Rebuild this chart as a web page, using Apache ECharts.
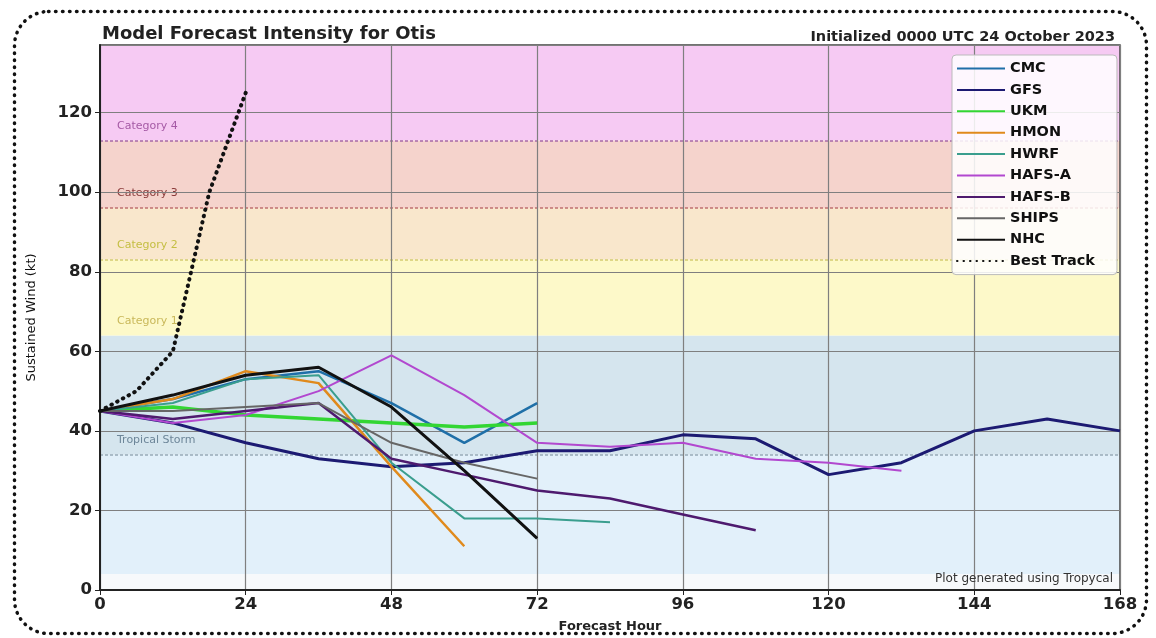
<!DOCTYPE html>
<html>
<head>
<meta charset="utf-8">
<script src="https://cdn.jsdelivr.net/npm/echarts@6/dist/echarts.min.js"></script>
<style>
html,body{margin:0;padding:0;background:#fff;}
#chart{width:1156px;height:638px;}
</style>
</head>
<body>
<div id="chart"></div>
<script>
// ---- data ----
const hours = [0,12,24,36,48,60,72,84,96,108,120,132,144,156,168];
const cmc   = [45,48,53,55,47,37,47];
const gfs   = [45,42,37,33,31,32,35,35,39,38,29,32,40,43,40];
const ukm   = [45,46,44,43,42,41,42];
const hmon  = [45,48,55,52,31,11];
const hwrf  = [45,47,53,54,32,18,18,17];
const hafsA = [45,42,44,50,59,49,37,36,37,33,32,30];
const hafsB = [45,43,45,47,33,29,25,23,19,15];
const ships = [45,45,46,47,37,32,28];
const nhc   = [45,49,54,56,46,30,13];
const bestHours = [0,6,12,18,24];
const bestTrack = [45,50,60,100,125];
const xTicks = [0,24,48,72,96,120,144,168];
const yTicks = [0,20,40,60,80,100,120];
// intensity bands
const bandLows  = [0,4,34,64,83,96,113];
const bandHighs = [4,34,64,83,96,113,137];
const bandNames = ['','','Tropical Storm','Category 1','Category 2','Category 3','Category 4'];
const dashLevels = [34,83,96,113];

const bandColors = ['#f7f9fb','#e2f0fa','#d5e5ee','#fdf9c9','#f9e7cc','#f5d3cc','#f6caf3'];
const bandLabelColors = ['#000','#000','#6d8699','#c9b85a','#c4be42','#8a3a3a','#a55aa5'];
const dashColors = ['#98aab8','#d4cc70','#c07070','#a86aa8'];

function pairs(xs, ys){ return ys.map((v,i)=>[xs[i], v]); }

const chart = echarts.init(document.getElementById('chart'));
const FONT = "'DejaVu Sans', sans-serif";

const models = [
  {name:'CMC', data:cmc, color:'#1f6fa8', w:2.5},
  {name:'GFS', data:gfs, color:'#1c1a72', w:3},
  {name:'UKM', data:ukm, color:'#33d633', w:3.5},
  {name:'HMON', data:hmon, color:'#e08a1c', w:2.5},
  {name:'HWRF', data:hwrf, color:'#3a9e8e', w:2},
  {name:'HAFS-A', data:hafsA, color:'#b248cf', w:2},
  {name:'HAFS-B', data:hafsB, color:'#4e1a6e', w:2.5},
  {name:'SHIPS', data:ships, color:'#666666', w:2},
  {name:'NHC', data:nhc, color:'#111111', w:3}
];

const series = [];
series.push({
  type:'line', name:'bands', data:[], silent:true, z:-10, zlevel:0,
  markArea:{
    silent:true, z:-10,
    data: bandLows.map((lo,i)=>[
      {yAxis:lo, itemStyle:{color:bandColors[i]},
       label:{show: bandNames[i]!=='', formatter: bandNames[i], position:'insideBottomLeft', distance:8, offset:[9,-1],
              color: bandLabelColors[i], fontSize:11, fontFamily:FONT}},
      {yAxis:bandHighs[i]}
    ])
  },
  markLine:{
    silent:true, symbol:'none', label:{show:false}, z:-9,
    data: dashLevels.map((v,i)=>({yAxis:v, lineStyle:{color:dashColors[i], type:[3,2], width:1.5}}))
  }
});
models.forEach(m=>{
  series.push({
    type:'line', name:m.name, data:pairs(hours, m.data), symbol:'none',
    lineStyle:{color:m.color, width:m.w}, itemStyle:{color:m.color}, z:3
  });
});
series.push({
  type:'line', name:'Best Track', data:pairs(bestHours, bestTrack), symbol:'none',
  lineStyle:{color:'#111', width:4, type:[0.5,6], cap:'round'}, itemStyle:{color:'#111'}, z:4
});

chart.setOption({
  animation:false,
  backgroundColor:'#fff',
  title:[
    {text:'Model Forecast Intensity for Otis', left:97, top:20,
     textStyle:{fontFamily:FONT, fontSize:18, fontWeight:'bold', color:'#222'}},
    {text:'Initialized 0000 UTC 24 October 2023', right:36, top:25,
     textStyle:{fontFamily:FONT, fontSize:14.5, fontWeight:'bold', color:'#222'}}
  ],
  grid:{left:100, right:36, top:45, bottom:48, show:true, borderColor:'#444', borderWidth:1.5, backgroundColor:'transparent'},
  legend:{
    orient:'vertical', left:952, top:55,
    data: models.map(m=>m.name).concat(['Best Track']),
    itemWidth:48, itemHeight:14, itemGap:6.4,
    padding:[6,22,6,4],
    itemStyle:{opacity:0},
    backgroundColor:'rgba(255,255,255,0.85)', borderColor:'#bbb', borderWidth:1, borderRadius:4,
    textStyle:{fontFamily:FONT, fontSize:14.5, fontWeight:'bold', color:'#111'}
  },
  xAxis:{
    type:'value', min:xTicks[0], max:xTicks[xTicks.length-1], interval:24,
    name:'Forecast Hour', nameLocation:'middle', nameGap:30,
    nameTextStyle:{fontFamily:FONT, fontSize:13, fontWeight:'bold', color:'#222'},
    axisLine:{show:true, lineStyle:{color:'#222', width:2}},
    axisTick:{show:true, length:5, lineStyle:{color:'#222'}},
    axisLabel:{fontFamily:FONT, fontSize:16.5, fontWeight:'bold', color:'#222', margin:6},
    splitLine:{show:true, lineStyle:{color:'#7f7f7f', width:1.2}}
  },
  yAxis:{
    type:'value', min:yTicks[0], max:137, interval:20,
    name:'Sustained Wind (kt)', nameLocation:'middle', nameGap:62,
    nameTextStyle:{fontFamily:FONT, fontSize:13, color:'#111'},
    axisLine:{show:true, lineStyle:{color:'#222', width:2}},
    axisTick:{show:true, length:5, lineStyle:{color:'#222'}},
    axisLabel:{fontFamily:FONT, fontSize:16.5, fontWeight:'bold', color:'#222', margin:8, showMaxLabel:false},
    splitLine:{show:true, lineStyle:{color:'#7f7f7f', width:1.2}}
  },
  series: series,
  graphic:[
    {type:'rect', left:12, top:9, shape:{width:1132, height:622, r:34}, z:100, silent:true,
     style:{fill:'none', stroke:'#111', lineWidth:3.5, lineDash:[0.5,6.5], lineCap:'round'}},
    {type:'text', right:43, top:573, z:100, silent:true,
     style:{text:'Plot generated using Tropycal', fontFamily:FONT, fontSize:12, fill:'#333'}}
  ]
});
</script>
</body>
</html>
